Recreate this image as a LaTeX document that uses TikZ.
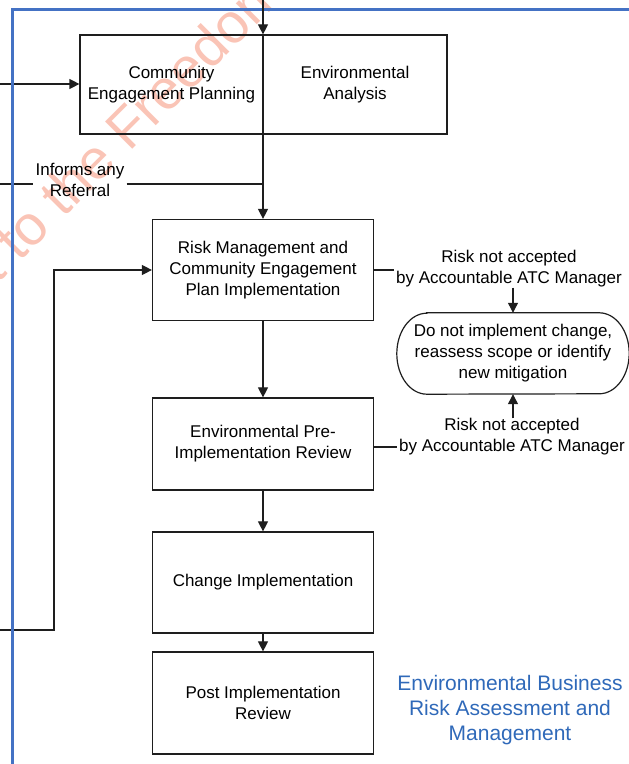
\documentclass[tikz,border=0pt]{standalone}
\usepackage{fontspec}
\setmainfont{Liberation Sans}
\usetikzlibrary{arrows.meta,calc}
\definecolor{frameblue}{RGB}{68,114,196}
\definecolor{capblue}{RGB}{47,105,185}
\definecolor{wmark}{RGB}{250,196,182}
\definecolor{ink}{RGB}{30,30,30}

\begin{document}
\begin{tikzpicture}[x=1pt,y=1pt,
  stepbox/.style={draw=ink, line width=1.2pt, minimum width=221pt, align=center,
                  font=\fontsize{17}{21}\selectfont, inner sep=0pt},
  lbl/.style={align=center, font=\fontsize{17}{21}\selectfont, inner xsep=2pt, inner ysep=0pt},
  flow/.style={draw=ink, line width=1.2pt, -{Triangle[length=10pt,width=10pt]}},
  link/.style={draw=ink, line width=1.2pt}
]
\useasboundingbox (0,0) rectangle (629,764);
\clip (0,0) rectangle (629,764);

% faint watermark behind the chart
\node[anchor=base west, rotate=45, text=wmark, inner sep=0pt,
      font=\fontsize{56}{60}\selectfont] (wm) at (-3,479) {t to the Freedom};

% process steps
\node[stepbox, minimum width=183pt, minimum height=99pt] (plan) at (171.5,679.5) {Community\\Engagement Planning};
\node[stepbox, minimum width=184pt, minimum height=99pt] (envan) at (355,679.5) {Environmental\\Analysis};
\node[stepbox, minimum height=101pt] (rmc) at (263,494) {Risk Management and\\Community Engagement\\Plan Implementation};
\node[stepbox, minimum height=92pt] (epir) at (263,320) {Environmental Pre-\\Implementation Review};
\node[stepbox, minimum height=101pt] (chg) at (263,181.5) {Change Implementation};
\node[stepbox, minimum height=102pt] (post) at (263,61) {Post Implementation\\Review};

% side labels and the stop terminal
\node[lbl] (inform) at (80,584) {Informs any\\Referral};
\node[lbl] (rna1) at (509,495) {Risk not accepted\\by Accountable ATC Manager};
\node[lbl] (rna2) at (512,327) {Risk not accepted\\by Accountable ATC Manager};
\node[lbl, minimum width=232pt, minimum height=81pt] (halt) at (513,410.5)
  {Do not implement change,\\reassess scope or identify\\new mitigation};
\draw[link] ([xshift=30pt]halt.north west) -- ([xshift=-30pt]halt.north east)
  arc[start angle=90, end angle=-90, x radius=30pt, y radius=40.5pt]
  -- ([xshift=30pt]halt.south west)
  arc[start angle=270, end angle=90, x radius=30pt, y radius=40.5pt] -- cycle;

\node[lbl, text=capblue, font=\fontsize{21}{25}\selectfont] (cap) at (510,54)
  {Environmental Business\\Risk Assessment and\\Management};

% incoming connectors from the left
\coordinate (leftin) at (0,680);
\draw[flow] (leftin) -- (leftin -| plan.west);
\coordinate (refin) at (0,580);
\draw[link] (refin) -- (refin -| inform.west);
\draw[link] (refin -| inform.east) -- (refin -| rmc.north);
\coordinate (loopin) at (0,134);
\draw[flow] (loopin) -- (54,134) |- (rmc.west);

% main flow
\draw[flow] (plan.south east -| rmc.north) -- (rmc.north);
\draw[flow] (rmc.south) -- (epir.north);
\draw[flow] (epir.south) -- (chg.north);
\draw[flow] (chg.south) -- (post.north);

% rejection paths
\draw[link] (rmc.east) -- (rmc.east -| rna1.west);
\draw[flow] (halt.north |- rna1.south) -- (halt.north);
\coordinate (r2) at ($(epir.east)+(0,-3)$);
\draw[link] (r2) -- (r2 -| rna2.west);
\draw[flow] (halt.south |- rna2.north) -- (halt.south);

% blue frame
\draw[frameblue, line width=3pt] (12,0) -- (12,754) -- (629,754);

% connector entering from the top
\coordinate (topin) at (263,764);
\draw[flow] (topin) -- (topin |- plan.north);
\end{tikzpicture}
\end{document}
